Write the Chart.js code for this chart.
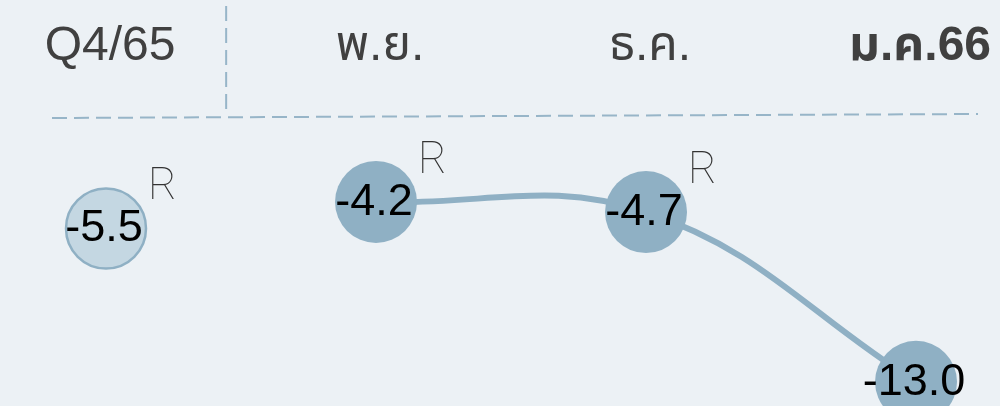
<!DOCTYPE html>
<html>
<head>
<meta charset="utf-8">
<script src="https://cdn.jsdelivr.net/npm/chart.js@4/dist/chart.umd.min.js"></script>
<style>
  html, body { margin: 0; padding: 0; background: #ecf1f5; }
  #wrap { width: 1000px; height: 406px; }
</style>
</head>
<body>
<div id="wrap"><canvas id="chart" width="1000" height="406"></canvas></div>
<script>
// data
const periods = ['Q4/65', 'พ.ย.', 'ธ.ค.', 'ม.ค.66'];
const quarterValues = [-5.5, null, null, null];
const monthValues = [null, -4.2, -4.7, -13.0];
const revised = [true, true, true, false];

const blue = '#8fb0c4';
const paleBlue = '#c4d7e2';
const dashBlue = '#97b5c8';

const toPoints = vals => vals.map((v, i) => ({ x: i, y: v }));

// value labels, "R" marks, divider and zero line
const overlay = {
  id: 'overlay',
  beforeDatasetsDraw(chart) {
    const { ctx, scales: { x, y } } = chart;
    const y0 = y.getPixelForValue(0);
    ctx.save();
    ctx.strokeStyle = dashBlue;
    ctx.lineWidth = 2;
    ctx.setLineDash([15, 7]);
    ctx.beginPath();
    ctx.moveTo(52, y0 + 2);
    ctx.lineTo(978, y0 - 2);
    ctx.stroke();
    const xd = x.getPixelForValue(0.445);
    ctx.beginPath();
    ctx.moveTo(xd, 6);
    ctx.lineTo(xd, y0 - 6);
    ctx.stroke();
    ctx.restore();
  },
  afterDatasetsDraw(chart) {
    const { ctx } = chart;
    ctx.save();
    chart.data.datasets.forEach((ds, di) => {
      chart.getDatasetMeta(di).data.forEach((pt, i) => {
        const v = ds.data[i].y;
        if (v === null || v === undefined) return;
        ctx.fillStyle = '#000';
        ctx.font = '45px "Liberation Sans", Arial, sans-serif';
        ctx.textAlign = 'center';
        ctx.textBaseline = 'alphabetic';
        ctx.fillText(v.toFixed(1), pt.x - 2, pt.y + 13);
        if (revised[i]) {
          ctx.fillStyle = '#333';
          ctx.font = '100 44px Roboto, "Liberation Sans", sans-serif';
          ctx.textAlign = 'left';
          ctx.fillText('R', pt.x + 42, pt.y - 29);
        }
      });
    });
    ctx.restore();
  }
};

new Chart(document.getElementById('chart'), {
  type: 'line',
  data: {
    datasets: [
      {
        label: 'Q4/65',
        data: toPoints(quarterValues),
        showLine: false,
        pointRadius: 40,
        pointBackgroundColor: paleBlue,
        pointBorderColor: blue,
        pointBorderWidth: 2.5,
        clip: false
      },
      {
        label: 'monthly',
        data: toPoints(monthValues),
        borderColor: blue,
        borderWidth: 6,
        tension: 0.4,
        pointRadius: 41,
        pointBackgroundColor: blue,
        pointBorderWidth: 0,
        clip: false
      }
    ]
  },
  options: {
    responsive: false,
    devicePixelRatio: 1,
    animation: false,
    events: [],
    layout: { padding: 0, autoPadding: false },
    plugins: { legend: { display: false }, tooltip: { enabled: false } },
    scales: {
      x: {
        type: 'linear',
        position: 'top',
        min: -0.3926,
        max: 3.311,
        afterBuildTicks: s => { s.ticks = periods.map((p, i) => ({ value: i })); },
        afterFit: s => { s.height = 80; s.paddingLeft = 0; s.paddingRight = 0; },
        grid: { display: false, drawTicks: false },
        border: { display: false },
        ticks: {
          autoSkip: false,
          maxRotation: 0,
          padding: 4,
          labelOffset: 4,
          color: '#404040',
          font: c => ({
            size: 48,
            family: '"Liberation Sans", "Noto Sans Thai", "Noto Sans", sans-serif',
            weight: c.index === 3 ? 'bold' : 'normal'
          }),
          callback: (v, i) => periods[i]
        }
      },
      y: {
        display: false,
        min: -14.18,
        max: 1.76
      }
    }
  },
  plugins: [overlay]
});
</script>
</body>
</html>
